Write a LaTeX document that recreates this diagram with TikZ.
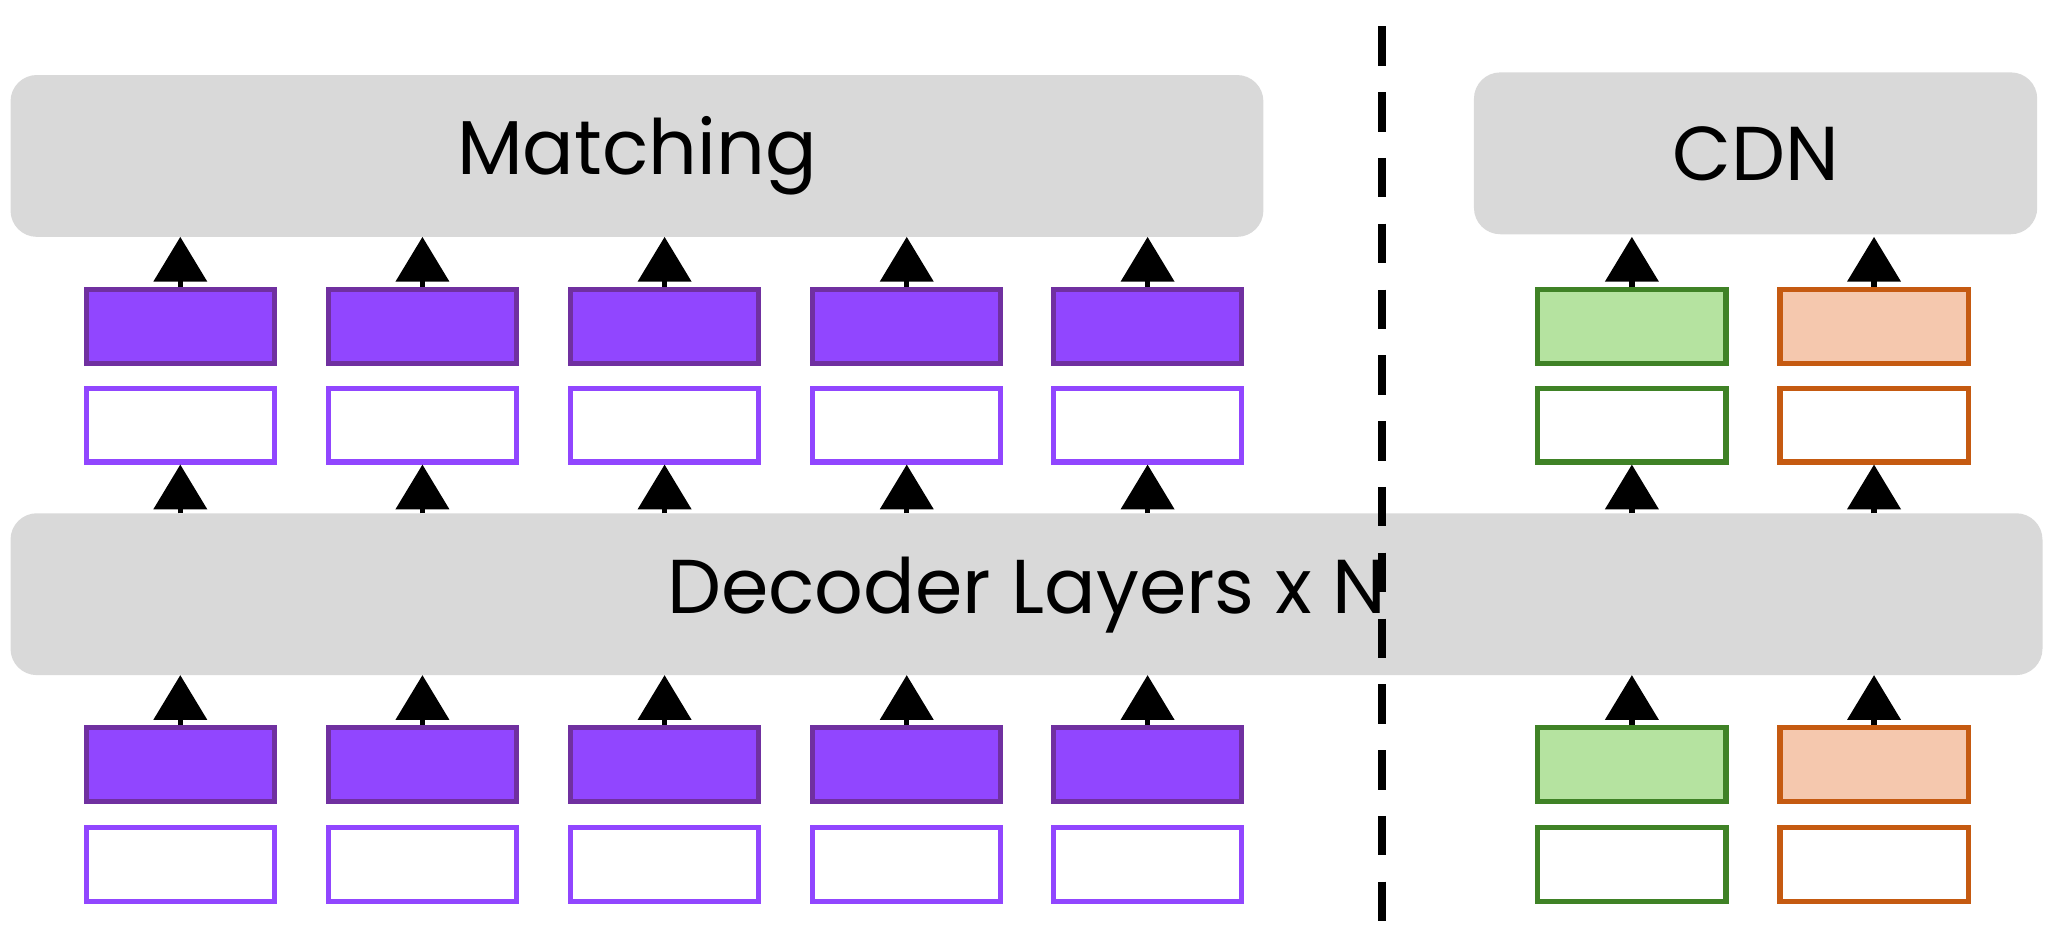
\documentclass[tikz,border=0pt]{standalone}
\usepackage{fontspec}
\setmainfont{Poppins}
\usetikzlibrary{arrows.meta}
\definecolor{gbox}{HTML}{D9D9D9}
\definecolor{pfill}{HTML}{9146FF}
\definecolor{pdraw}{HTML}{7030A0}
\definecolor{gfill}{HTML}{B5E3A0}
\definecolor{gdraw}{HTML}{3F8226}
\definecolor{ofill}{HTML}{F5C8AE}
\definecolor{odraw}{HTML}{C55A11}
\begin{document}
\begin{tikzpicture}[x=1pt,y=-1pt,
  big/.style={fill=gbox,rounded corners=20pt,draw=none},
  tok/.style={minimum width=143pt,minimum height=56pt,line width=4pt,inner sep=0pt},
  arr/.style={line width=4pt,-{Triangle[width=40pt,length=34pt]}},
  lbl/.style={font=\fontsize{58}{60}\selectfont}]
\useasboundingbox (0,0) rectangle (1560,714);
\fill[big] (8,57) rectangle (960,180);
\node[lbl] (m) at (484,118) {Matching};
\coordinate (mb) at (0,180);
\fill[big] (1120,55) rectangle (1548,178);
\node[lbl] (c) at (1334,117) {CDN};
\fill[big] (8,390) rectangle (1552,513);
\node[lbl] (d) at (780,452) {Decoder Layers x N};
\draw[line width=6pt,dash pattern=on 30pt off 20pt] (1050,20) -- (1050,700);
\foreach \i/\x in {1/137,2/321,3/505,4/689,5/872}{
  \node[tok,fill=pfill,draw=pdraw] (uf\i) at (\x,248) {};
  \node[tok,fill=white,draw=pfill] (uw\i) at (\x,323) {};
  \node[tok,fill=pfill,draw=pdraw] (lf\i) at (\x,581) {};
  \node[tok,fill=white,draw=pfill] (lw\i) at (\x,657) {};
  \coordinate (mt\i) at (\x,180);
  \coordinate (dt\i) at (\x,390);
  \coordinate (db\i) at (\x,513);
  \draw[arr] (uf\i.north) -- (mt\i);
  \draw[arr] (dt\i) -- (uw\i.south);
  \draw[arr] (lf\i.north) -- (db\i);
}
\foreach \i/\x/\f/\d in {6/1240/gfill/gdraw,7/1424/ofill/odraw}{
  \node[tok,fill=\f,draw=\d] (uf\i) at (\x,248) {};
  \node[tok,fill=white,draw=\d] (uw\i) at (\x,323) {};
  \node[tok,fill=\f,draw=\d] (lf\i) at (\x,581) {};
  \node[tok,fill=white,draw=\d] (lw\i) at (\x,657) {};
  \coordinate (mt\i) at (\x,180);
  \coordinate (dt\i) at (\x,390);
  \coordinate (db\i) at (\x,513);
  \draw[arr] (uf\i.north) -- (mt\i);
  \draw[arr] (dt\i) -- (uw\i.south);
  \draw[arr] (lf\i.north) -- (db\i);
}
\end{tikzpicture}
\end{document}
